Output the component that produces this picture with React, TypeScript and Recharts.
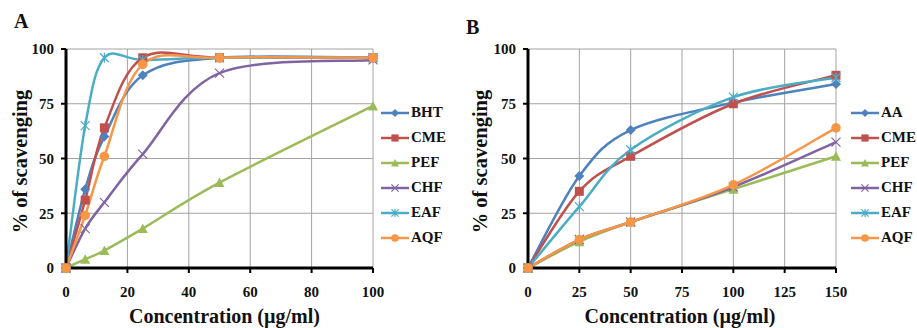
import React from "react";
import { CartesianGrid, Legend, Line, LineChart, XAxis, YAxis } from "recharts";

const FONT = '"Liberation Serif", "Times New Roman", serif';

// Panel A: DPPH-style scavenging, concentration 0-100 µg/ml
const A_CONC = [0, 6.25, 12.5, 25, 50, 100];
const A_BHT = [0, 36, 60, 88, 96, 96];
const A_CME = [0, 31, 64, 96, 96, 96];
const A_PEF = [0, 4, 8, 18, 39, 74];
const A_CHF = [0, 18, 30, 52, 89, 95];
const A_EAF = [0, 65, 96, 95, 96, 96];
const A_AQF = [0, 24, 51, 93, 96, 96];

// Panel B: concentration 0-150 µg/ml
const B_CONC = [0, 25, 50, 100, 150];
const B_AA = [0, 42, 63, 75.5, 84];
const B_CME = [0, 35, 51, 75, 88];
const B_PEF = [0, 12, 21, 36, 51];
const B_CHF = [0, 13, 21, 37, 57.5];
const B_EAF = [0, 28, 54, 78, 87];
const B_AQF = [0, 13, 21, 38, 64];

const Y_TICKS = [0, 25, 50, 75, 100];
const A_X_TICKS = [0, 20, 40, 60, 80, 100];
const B_X_TICKS = [0, 25, 50, 75, 100, 125, 150];

type Shape = "diamond" | "square" | "triangle" | "x" | "star" | "circle";
type Series = { name: string; values: number[]; color: string; shape: Shape };

const SERIES_A: Series[] = [
  { name: "BHT", values: A_BHT, color: "#4F81BD", shape: "diamond" },
  { name: "CME", values: A_CME, color: "#C0504D", shape: "square" },
  { name: "PEF", values: A_PEF, color: "#9BBB59", shape: "triangle" },
  { name: "CHF", values: A_CHF, color: "#8064A2", shape: "x" },
  { name: "EAF", values: A_EAF, color: "#4BACC6", shape: "star" },
  { name: "AQF", values: A_AQF, color: "#F79646", shape: "circle" },
];

const SERIES_B: Series[] = [
  { name: "AA", values: B_AA, color: "#4F81BD", shape: "diamond" },
  { name: "CME", values: B_CME, color: "#C0504D", shape: "square" },
  { name: "PEF", values: B_PEF, color: "#9BBB59", shape: "triangle" },
  { name: "CHF", values: B_CHF, color: "#8064A2", shape: "x" },
  { name: "EAF", values: B_EAF, color: "#4BACC6", shape: "star" },
  { name: "AQF", values: B_AQF, color: "#F79646", shape: "circle" },
];

const toRows = (conc: number[], series: Series[]) =>
  conc.map((x, i) => {
    const row: Record<string, number> = { x };
    series.forEach((s) => (row[s.name] = s.values[i]));
    return row;
  });

// Excel-like smoothed line (Catmull-Rom through the points)
const excelCurve = (context: any) => {
  let pts: [number, number][] = [];
  return {
    areaStart() {},
    areaEnd() {},
    lineStart() {
      pts = [];
    },
    point(x: number, y: number) {
      pts.push([+x, +y]);
    },
    lineEnd() {
      if (!pts.length) return;
      context.moveTo(pts[0][0], pts[0][1]);
      for (let i = 0; i < pts.length - 1; i++) {
        const p0 = pts[Math.max(i - 1, 0)];
        const p1 = pts[i];
        const p2 = pts[i + 1];
        const p3 = pts[Math.min(i + 2, pts.length - 1)];
        context.bezierCurveTo(
          p1[0] + (p2[0] - p0[0]) / 6,
          p1[1] + (p2[1] - p0[1]) / 6,
          p2[0] - (p3[0] - p1[0]) / 6,
          p2[1] - (p3[1] - p1[1]) / 6,
          p2[0],
          p2[1]
        );
      }
    },
  };
};

function Marker({ shape, cx, cy, color, r = 5 }: { shape: Shape; cx: number; cy: number; color: string; r?: number }) {
  if (cx == null || cy == null) return null;
  const h = r * 0.9;
  switch (shape) {
    case "diamond":
      return <path d={`M${cx},${cy - r}L${cx + r},${cy}L${cx},${cy + r}L${cx - r},${cy}Z`} fill={color} />;
    case "square":
      return <rect x={cx - h} y={cy - h} width={2 * h} height={2 * h} fill={color} />;
    case "triangle":
      return <path d={`M${cx},${cy - r}L${cx + r},${cy + h}L${cx - r},${cy + h}Z`} fill={color} />;
    case "x":
      return (
        <path d={`M${cx - h},${cy - h}L${cx + h},${cy + h}M${cx - h},${cy + h}L${cx + h},${cy - h}`} stroke={color} strokeWidth={1.2} />
      );
    case "star":
      return (
        <path
          d={`M${cx - h},${cy - h}L${cx + h},${cy + h}M${cx - h},${cy + h}L${cx + h},${cy - h}M${cx},${cy - r}L${cx},${cy + r}`}
          stroke={color}
          strokeWidth={1.2}
        />
      );
    default:
      return <circle cx={cx} cy={cy} r={r * 0.96} fill={color} />;
  }
}

function LegendBox({ series }: { series: Series[] }) {
  return (
    <div style={{ fontFamily: FONT, fontWeight: 700, fontSize: 15, color: "#111" }}>
      {series.map((s) => (
        <div key={s.name} style={{ display: "flex", alignItems: "center", height: 25 }}>
          <svg width={28} height={14} style={{ marginRight: 2 }}>
            <line x1={0} y1={7} x2={28} y2={7} stroke={s.color} strokeWidth={2.5} />
            <Marker shape={s.shape} cx={14} cy={7} color={s.color} r={4} />
          </svg>
          <span>{s.name}</span>
        </div>
      ))}
    </div>
  );
}

function YTitle({ viewBox, shift }: any) {
  const cx = viewBox.x + shift;
  const cy = viewBox.y + viewBox.height / 2 + 3;
  return (
    <text
      x={cx}
      y={cy}
      transform={`rotate(-90 ${cx} ${cy})`}
      textAnchor="middle"
      dominantBaseline="central"
      fontFamily={FONT}
      fontWeight={700}
      fontSize={20.5}
      fill="#111"
    >
      % of scavenging
    </text>
  );
}

function XTitle({ viewBox, shift }: any) {
  const cx = viewBox.x + viewBox.width / 2 + shift;
  const cy = viewBox.y + viewBox.height + 18;
  return (
    <text x={cx} y={cy} textAnchor="middle" dominantBaseline="central" fontFamily={FONT} fontWeight={700} fontSize={20} fill="#111">
      Concentration (µg/ml)
    </text>
  );
}

const tickStyle = { fill: "#111", fontSize: 15, fontWeight: 700, fontFamily: FONT };

function Panel({
  series,
  conc,
  xTicks,
  xMax,
  width,
  margin,
  legendLeft,
  yShift,
  xShift,
}: {
  series: Series[];
  conc: number[];
  xTicks: number[];
  xMax: number;
  width: number;
  margin: { top: number; right: number; bottom: number; left: number };
  legendLeft: number;
  yShift: number;
  xShift: number;
}) {
  const rows = toRows(conc, series);
  return (
    <LineChart width={width} height={328} data={rows} margin={margin}>
      <CartesianGrid stroke="#a3a3a3" strokeWidth={1} />
      <XAxis
        dataKey="x"
        type="number"
        domain={[0, xMax]}
        ticks={xTicks}
        height={30}
        tickSize={5}
        tickMargin={13}
        axisLine={{ stroke: "#000", strokeWidth: 3 }}
        tickLine={{ stroke: "#000", strokeWidth: 2 }}
        tick={tickStyle}
        label={(p: any) => <XTitle {...p} shift={xShift} />}
      />
      <YAxis
        type="number"
        domain={[0, 100]}
        ticks={Y_TICKS}
        width={30}
        tickSize={5}
        tickMargin={7}
        axisLine={{ stroke: "#000", strokeWidth: 3 }}
        tickLine={{ stroke: "#000", strokeWidth: 2 }}
        tick={tickStyle}
        label={(p: any) => <YTitle {...p} shift={yShift} />}
      />
      <Legend
        layout="vertical"
        align="center"
        verticalAlign="middle"
        wrapperStyle={{ left: legendLeft, top: 100, width: 80 }}
        content={() => <LegendBox series={series} />}
      />
      {series.map((s) => (
        <Line
          key={s.name}
          dataKey={s.name}
          name={s.name}
          type={excelCurve as any}
          stroke={s.color}
          strokeWidth={2.5}
          isAnimationActive={false}
          dot={(p: any) => <Marker key={`${s.name}-${p.index}`} shape={s.shape} cx={p.cx} cy={p.cy} color={s.color} />}
          activeDot={false}
        />
      ))}
    </LineChart>
  );
}

export default function App() {
  return (
    <div style={{ position: "absolute", left: 0, top: 0, width: 917, height: 328, background: "#fff" }}>
      <div style={{ position: "absolute", left: 14, top: 10, fontFamily: FONT, fontWeight: 700, fontSize: 20, color: "#111" }}>A</div>
      <div style={{ position: "absolute", left: 466, top: 16, fontFamily: FONT, fontWeight: 700, fontSize: 20, color: "#111" }}>B</div>
      <div style={{ position: "absolute", left: 0, top: 0 }}>
        <Panel
          series={SERIES_A}
          conc={A_CONC}
          xTicks={A_X_TICKS}
          xMax={100}
          width={460}
          margin={{ top: 49, right: 87, bottom: 30, left: 36 }}
          legendLeft={381}
          yShift={-16}
          xShift={5}
        />
      </div>
      <div style={{ position: "absolute", left: 460, top: 0 }}>
        <Panel
          series={SERIES_B}
          conc={B_CONC}
          xTicks={B_X_TICKS}
          xMax={150}
          width={457}
          margin={{ top: 49, right: 81, bottom: 30, left: 38 }}
          legendLeft={391}
          yShift={-18}
          xShift={-2}
        />
      </div>
    </div>
  );
}
